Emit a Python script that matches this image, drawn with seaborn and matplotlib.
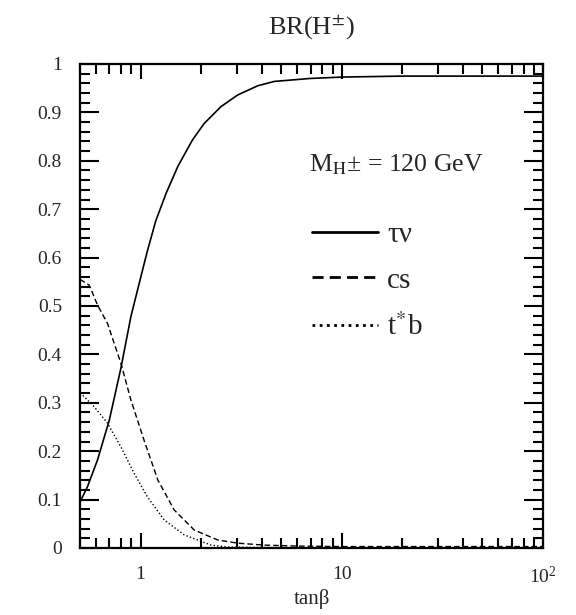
import numpy as np
import pandas as pd
import matplotlib
matplotlib.use("Agg")
import matplotlib.pyplot as plt
import seaborn as sns
from matplotlib.ticker import FixedLocator, FixedFormatter, LogLocator, MultipleLocator, NullFormatter

# ---- data ----
tanb_taunu = [0.5, 0.545, 0.611, 0.699, 0.798, 0.895, 1.0, 1.08, 1.19, 1.34, 1.53, 1.81, 2.07, 2.51, 3.04, 3.82, 4.62, 6.9, 10, 20, 50, 100]
br_taunu = [0.095, 0.127, 0.182, 0.264, 0.371, 0.478, 0.558, 0.613, 0.676, 0.733, 0.788, 0.843, 0.877, 0.912, 0.936, 0.955, 0.964, 0.970, 0.973, 0.975, 0.975, 0.975]

tanb_cs = [0.5, 0.556, 0.611, 0.685, 0.798, 0.895, 1.04, 1.22, 1.47, 1.85, 2.42, 3.04, 4.1, 6.0, 10, 100]
br_cs = [0.555, 0.543, 0.502, 0.464, 0.382, 0.306, 0.223, 0.140, 0.0785, 0.037, 0.0165, 0.010, 0.006, 0.004, 0.003, 0.003]

tanb_tb = [0.5, 0.514, 0.588, 0.685, 0.798, 0.93, 1.08, 1.31, 1.65, 2.24, 2.7, 4.0, 100]
br_tb = [0.32, 0.316, 0.292, 0.258, 0.209, 0.154, 0.106, 0.058, 0.027, 0.006, 0.002, 0.001, 0.0]

channels = ["τν", "cs", "t$^{*}$b"]
x_ticks = [1, 10, 100]
x_ticklabels = ["1", "10", r"$\mathregular{10^{2}}$"]
y_ticks = [0, 0.1, 0.2, 0.3, 0.4, 0.5, 0.6, 0.7, 0.8, 0.9, 1.0]
y_ticklabels = ["0", "0.1", "0.2", "0.3", "0.4", "0.5", "0.6", "0.7", "0.8", "0.9", "1"]

df = pd.concat([
    pd.DataFrame({"tanb": tanb_taunu, "br": br_taunu, "ch": channels[0]}),
    pd.DataFrame({"tanb": tanb_cs, "br": br_cs, "ch": channels[1]}),
    pd.DataFrame({"tanb": tanb_tb, "br": br_tb, "ch": channels[2]}),
])

sns.set_style("white")
plt.rcParams["font.family"] = ["Liberation Serif", "DejaVu Serif"]
plt.rcParams["mathtext.fontset"] = "stix"

fig = plt.figure(figsize=(5.76, 6.15), dpi=100)
ax = fig.add_axes([80/576, 67/615, 463/576, 484/615])

styles = {channels[0]: "-", channels[1]: (0, (4, 2.2)), channels[2]: (0, (1, 1.6))}
widths = {channels[0]: 1.2, channels[1]: 1.0, channels[2]: 1.0}
for ch in channels:
    sub = df[df["ch"] == ch]
    sns.lineplot(data=sub, x="tanb", y="br", ax=ax, color="black", lw=widths[ch],
                 linestyle=styles[ch], label=ch, legend=False, estimator=None, sort=False)

ax.set_xscale("log")
ax.set_xlim(0.5, 100)
ax.set_ylim(0, 1)

ax.xaxis.set_major_locator(FixedLocator(x_ticks))
ax.xaxis.set_major_formatter(FixedFormatter(x_ticklabels))
ax.xaxis.set_minor_locator(LogLocator(base=10, subs=np.arange(2, 10)))
ax.xaxis.set_minor_formatter(NullFormatter())
ax.yaxis.set_major_locator(FixedLocator(y_ticks))
ax.yaxis.set_major_formatter(FixedFormatter(y_ticklabels))
ax.yaxis.set_minor_locator(MultipleLocator(0.02))

ax.tick_params(axis="both", which="both", direction="in", top=True, right=True,
               bottom=True, left=True, width=1.5, color="black", labelsize=14)
ax.tick_params(axis="y", which="major", length=14, pad=13)
ax.tick_params(axis="y", which="minor", length=7.5)
ax.tick_params(axis="x", which="major", length=11, pad=13)
ax.tick_params(axis="x", which="minor", length=7)

for sp in ax.spines.values():
    sp.set_linewidth(1.6)
    sp.set_color("black")
    sp.set_visible(True)

ax.set_xlabel("tanβ", fontsize=15, labelpad=1)
ax.set_ylabel("")
ax.set_title(r"BR(H$^{\pm}$)", fontsize=19, pad=21)

ax.text(0.495, 0.791, r"M$_{\mathrm{H}}$± = 120 GeV", transform=ax.transAxes,
        fontsize=18.5, va="center", ha="left")

handles = ax.get_lines()[:3]
leg = ax.legend(handles, channels, loc="upper left", bbox_to_anchor=(0.501, 0.675),
                frameon=False, fontsize=21, handlelength=2.26, handletextpad=0.31,
                labelspacing=0.67, borderaxespad=0, borderpad=0)
for h in leg.get_lines():
    h.set_linewidth(2.0)

fig.savefig("out.png", dpi=100, facecolor="white")
